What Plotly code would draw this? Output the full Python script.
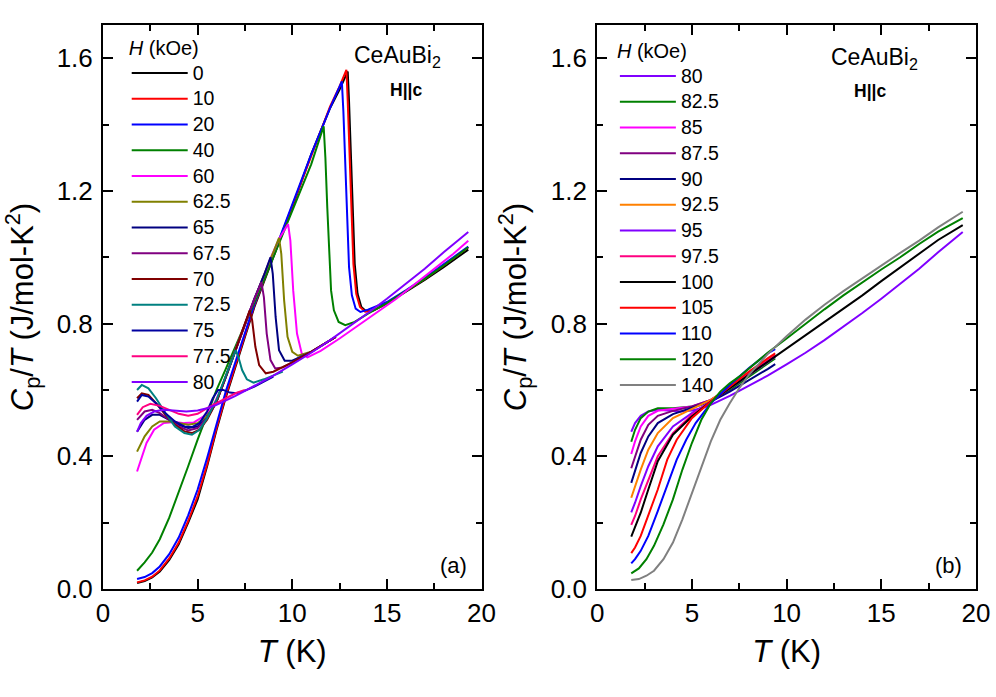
import plotly.graph_objects as go

FONT = "Liberation Sans, Arial, sans-serif"

# ---------------- Panel (a) data : T (K), Cp/T (J/mol-K^2) ----------------
T_a0 = [1.8, 2.2, 2.6, 3.0, 3.5, 4.0, 4.5, 5.0, 5.5, 6.0, 6.5, 7.0, 7.5, 8.0, 9.0, 10.0, 11.0, 12.0, 12.5, 12.93, 13.0, 13.1, 13.2, 13.3, 13.45, 13.65, 13.9, 14.3, 15.0, 16.0, 17.0, 18.0, 19.3]
C_a0 = [0.018, 0.024, 0.035, 0.053, 0.088, 0.135, 0.2, 0.27, 0.37, 0.48, 0.58, 0.67, 0.76, 0.85, 1.0, 1.15, 1.31, 1.45, 1.505, 1.56, 1.47, 1.3, 1.12, 0.98, 0.89, 0.85, 0.837, 0.84, 0.86, 0.895, 0.932, 0.97, 1.023]

T_a10 = [1.8, 2.2, 2.6, 3.0, 3.5, 4.0, 4.5, 5.0, 5.5, 6.0, 6.5, 7.0, 7.5, 8.0, 9.0, 10.0, 11.0, 12.0, 12.5, 12.86, 12.93, 13.03, 13.13, 13.23, 13.38, 13.58, 13.85, 14.3, 15.0, 16.0, 17.0, 18.0, 19.3]
C_a10 = [0.02, 0.026, 0.037, 0.056, 0.092, 0.14, 0.205, 0.28, 0.375, 0.485, 0.585, 0.675, 0.765, 0.855, 1.005, 1.155, 1.31, 1.455, 1.515, 1.565, 1.47, 1.3, 1.12, 0.98, 0.89, 0.85, 0.836, 0.84, 0.862, 0.898, 0.935, 0.975, 1.03]

T_a20 = [1.8, 2.2, 2.6, 3.0, 3.5, 4.0, 4.5, 5.0, 5.5, 6.0, 6.5, 7.0, 7.5, 8.0, 9.0, 10.0, 11.0, 12.0, 12.4, 12.62, 12.7, 12.8, 12.9, 13.0, 13.15, 13.35, 13.6, 14.0, 15.0, 16.0, 17.0, 18.0, 19.3]
C_a20 = [0.03, 0.036, 0.048, 0.068, 0.105, 0.155, 0.222, 0.3, 0.395, 0.5, 0.598, 0.685, 0.772, 0.858, 1.008, 1.158, 1.31, 1.45, 1.5, 1.53, 1.44, 1.27, 1.1, 0.97, 0.885, 0.845, 0.835, 0.842, 0.865, 0.9, 0.938, 0.978, 1.032]

T_a40 = [1.8, 2.2, 2.6, 3.0, 3.5, 4.0, 4.5, 5.0, 5.5, 6.0, 6.5, 7.0, 7.5, 8.0, 8.5, 9.0, 9.5, 10.0, 11.0, 11.66, 11.75, 11.85, 11.95, 12.05, 12.2, 12.45, 12.8, 13.3, 14.0, 15.0, 16.0, 17.0, 18.0, 19.3]
C_a40 = [0.055, 0.08, 0.11, 0.15, 0.215, 0.29, 0.37, 0.45, 0.525, 0.6, 0.665, 0.73, 0.795, 0.86, 0.93, 1.0, 1.07, 1.14, 1.28, 1.395, 1.3, 1.15, 1.0, 0.9, 0.84, 0.805, 0.795, 0.805, 0.83, 0.862, 0.898, 0.935, 0.975, 1.03]

T_a60 = [1.8, 2.0, 2.3, 2.7, 3.2, 3.8, 4.3, 4.8, 5.3, 5.8, 6.3, 6.8, 7.3, 7.8, 8.3, 8.8, 9.3, 9.78, 9.9, 10.05, 10.25, 10.5, 10.8, 11.5, 12.5, 13.5, 14.5, 15.5, 16.5, 17.5, 18.5, 19.3]
C_a60 = [0.354, 0.39, 0.44, 0.48, 0.5, 0.503, 0.5, 0.502, 0.52, 0.55, 0.61, 0.69, 0.77, 0.845, 0.915, 0.99, 1.055, 1.1, 1.05, 0.9, 0.77, 0.71, 0.698, 0.718, 0.755, 0.795, 0.835, 0.875, 0.92, 0.965, 1.01, 1.05]

T_a62 = [1.8, 2.2, 2.6, 3.0, 3.5, 4.0, 4.5, 5.0, 5.5, 6.0, 6.5, 7.0, 7.5, 8.0, 8.5, 9.0, 9.3, 9.42, 9.57, 9.75, 10.0, 10.3, 11.0, 12.3]
C_a62 = [0.414, 0.46, 0.49, 0.505, 0.505, 0.5, 0.495, 0.5, 0.52, 0.565, 0.64, 0.72, 0.8, 0.875, 0.945, 1.015, 1.058, 1.01, 0.87, 0.76, 0.715, 0.703, 0.715, 0.76]

T_a65 = [1.8, 2.2, 2.6, 3.0, 3.5, 4.0, 4.5, 5.0, 5.5, 6.0, 6.5, 7.0, 7.5, 8.0, 8.5, 8.85, 8.97, 9.12, 9.3, 9.6, 10.0, 11.0, 12.3]
C_a65 = [0.474, 0.51, 0.525, 0.525, 0.51, 0.495, 0.485, 0.49, 0.515, 0.565, 0.64, 0.72, 0.8, 0.875, 0.945, 1.0, 0.95, 0.82, 0.72, 0.688, 0.688, 0.715, 0.76]

T_a67 = [1.8, 2.2, 2.6, 3.0, 3.5, 4.0, 4.5, 5.0, 5.5, 6.0, 6.5, 7.0, 7.5, 8.0, 8.37, 8.5, 8.65, 8.85, 9.1, 9.5, 10.0, 11.0, 12.3]
C_a67 = [0.51, 0.535, 0.54, 0.53, 0.51, 0.49, 0.478, 0.485, 0.515, 0.565, 0.64, 0.72, 0.8, 0.875, 0.925, 0.88, 0.77, 0.69, 0.665, 0.668, 0.683, 0.715, 0.76]

T_a70 = [1.8, 2.05, 2.4, 2.8, 3.3, 3.8, 4.3, 4.7, 5.1, 5.5, 6.0, 6.5, 7.0, 7.5, 7.75, 7.88, 8.05, 8.25, 8.6, 9.0, 10.0, 11.0, 12.3]
C_a70 = [0.575, 0.59, 0.585, 0.56, 0.525, 0.495, 0.475, 0.47, 0.48, 0.51, 0.565, 0.64, 0.72, 0.8, 0.84, 0.81, 0.73, 0.675, 0.65, 0.655, 0.683, 0.715, 0.76]

T_a72 = [1.8, 2.05, 2.4, 2.8, 3.3, 3.8, 4.3, 4.7, 5.1, 5.5, 6.0, 6.5, 7.01, 7.15, 7.35, 7.6, 7.95, 8.5, 9.0, 9.5]
C_a72 = [0.6, 0.615, 0.605, 0.575, 0.53, 0.49, 0.47, 0.465, 0.48, 0.515, 0.57, 0.645, 0.72, 0.7, 0.66, 0.632, 0.622, 0.632, 0.643, 0.655]

T_a75 = [1.8, 2.05, 2.4, 2.8, 3.3, 3.8, 4.3, 4.7, 5.1, 5.5, 5.8, 6.08, 6.35, 6.7, 7.05, 7.5, 8.0, 8.5, 9.0]
C_a75 = [0.565, 0.585, 0.58, 0.56, 0.53, 0.505, 0.49, 0.488, 0.5, 0.535, 0.575, 0.6, 0.6, 0.592, 0.59, 0.598, 0.61, 0.625, 0.64]

T_a77 = [1.8, 2.1, 2.5, 3.0, 3.5, 4.0, 4.5, 5.0, 5.5, 6.0, 6.5, 7.0, 7.5]
C_a77 = [0.525, 0.548, 0.558, 0.552, 0.54, 0.528, 0.522, 0.528, 0.545, 0.56, 0.575, 0.59, 0.6]

# 80 kOe (shown in both panels)
T_80 = [1.8, 2.0, 2.3, 2.7, 3.2, 3.8, 4.4, 5.0, 5.5, 6.0, 6.5, 7.0, 7.5, 8.0, 9.0, 10.0, 11.0, 12.0, 13.0, 14.0, 15.0, 16.0, 17.0, 18.0, 19.3]
C_80 = [0.474, 0.5, 0.522, 0.535, 0.54, 0.538, 0.535, 0.538, 0.545, 0.555, 0.568, 0.582, 0.597, 0.612, 0.643, 0.677, 0.712, 0.75, 0.79, 0.832, 0.875, 0.92, 0.965, 1.015, 1.076]

# ---------------- Panel (b) data ----------------
T_b_short = [1.8, 2.0, 2.3, 2.7, 3.2, 4.0, 5.0, 6.0, 7.0, 8.0, 9.0, 9.4]
C_b82 = [0.444, 0.48, 0.515, 0.535, 0.545, 0.545, 0.55, 0.565, 0.6, 0.64, 0.68, 0.695]
C_b85 = [0.407, 0.445, 0.49, 0.522, 0.537, 0.542, 0.55, 0.57, 0.605, 0.645, 0.685, 0.7]
C_b87 = [0.364, 0.4, 0.45, 0.495, 0.522, 0.537, 0.55, 0.57, 0.607, 0.648, 0.688, 0.703]
C_b90 = [0.32, 0.355, 0.41, 0.46, 0.5, 0.527, 0.545, 0.565, 0.595, 0.628, 0.663, 0.678]
C_b92 = [0.275, 0.31, 0.36, 0.42, 0.47, 0.515, 0.542, 0.57, 0.607, 0.648, 0.69, 0.705]
C_b95 = [0.231, 0.26, 0.31, 0.37, 0.43, 0.49, 0.53, 0.565, 0.605, 0.645, 0.685, 0.7]
C_b97 = [0.193, 0.22, 0.27, 0.33, 0.4, 0.47, 0.525, 0.565, 0.605, 0.65, 0.69, 0.705]

T_b100 = [1.8, 2.0, 2.3, 2.7, 3.2, 4.0, 5.0, 6.0, 7.0, 8.0, 9.0, 10.0, 11.0, 12.0, 13.0, 14.0, 15.0, 16.0, 17.0, 18.0, 19.3]
C_b100 = [0.158, 0.185, 0.23, 0.3, 0.385, 0.465, 0.52, 0.565, 0.605, 0.645, 0.685, 0.725, 0.765, 0.805, 0.845, 0.885, 0.928, 0.97, 1.012, 1.052, 1.097]

T_b105 = [1.8, 2.0, 2.3, 2.7, 3.2, 3.7, 4.2, 5.0, 6.0, 7.0, 8.0, 9.0, 9.4]
C_b105 = [0.108, 0.125, 0.16, 0.22, 0.3, 0.39, 0.45, 0.515, 0.565, 0.61, 0.655, 0.695, 0.71]

T_b110 = [1.8, 2.0, 2.3, 2.7, 3.2, 3.7, 4.2, 4.7, 5.2, 6.0, 7.0, 8.0, 9.0, 9.4]
C_b110 = [0.077, 0.09, 0.115, 0.16, 0.235, 0.315, 0.39, 0.45, 0.5, 0.56, 0.615, 0.665, 0.71, 0.723]

T_b_long = [1.8, 2.2, 2.6, 3.0, 3.5, 4.0, 4.5, 5.0, 5.5, 6.0, 6.5, 7.0, 7.5, 8.0, 9.0, 10.0, 11.0, 12.0, 13.0, 14.0, 15.0, 16.0, 17.0, 18.0, 19.3]
C_b120 = [0.047, 0.062, 0.09, 0.13, 0.195, 0.27, 0.36, 0.44, 0.51, 0.56, 0.595, 0.62, 0.64, 0.665, 0.712, 0.755, 0.8, 0.843, 0.885, 0.925, 0.963, 1.0, 1.04, 1.077, 1.118]
C_b140 = [0.027, 0.03, 0.04, 0.055, 0.09, 0.14, 0.21, 0.29, 0.37, 0.445, 0.51, 0.56, 0.605, 0.645, 0.708, 0.762, 0.812, 0.857, 0.898, 0.937, 0.976, 1.013, 1.05, 1.09, 1.137]

labels_a = ["0", "10", "20", "40", "60", "62.5", "65", "67.5", "70", "72.5", "75", "77.5", "80"]
labels_b = ["80", "82.5", "85", "87.5", "90", "92.5", "95", "97.5", "100", "105", "110", "120", "140"]

colors_a = ["#000000", "#FF0000", "#0000FF", "#008000", "#FF00FF", "#808000", "#000080",
            "#800080", "#800000", "#008080", "#0000A0", "#FF0080", "#8000FF"]
colors_b = ["#8000FF", "#008000", "#FF00FF", "#800080", "#000080", "#FF8000", "#8000FF",
            "#FF0080", "#000000", "#FF0000", "#0000FF", "#008000", "#808080"]

series_a = [(T_a0, C_a0), (T_a10, C_a10), (T_a20, C_a20), (T_a40, C_a40), (T_a60, C_a60),
            (T_a62, C_a62), (T_a65, C_a65), (T_a67, C_a67), (T_a70, C_a70), (T_a72, C_a72),
            (T_a75, C_a75), (T_a77, C_a77), (T_80, C_80)]
series_b = [(T_80, C_80), (T_b_short, C_b82), (T_b_short, C_b85), (T_b_short, C_b87),
            (T_b_short, C_b90), (T_b_short, C_b92), (T_b_short, C_b95), (T_b_short, C_b97),
            (T_b100, C_b100), (T_b105, C_b105), (T_b110, C_b110), (T_b_long, C_b120),
            (T_b_long, C_b140)]

LEG_TXT = '<span style="font-size:19.5px">{}</span>'

fig = go.Figure()
for lab, (t, c), col in zip(labels_a, series_a, colors_a):
    fig.add_trace(go.Scatter(x=t, y=c, mode="lines", name=LEG_TXT.format(lab),
                             line=dict(color=col, width=2),
                             xaxis="x", yaxis="y", legend="legend"))
for lab, (t, c), col in zip(labels_b, series_b, colors_b):
    fig.add_trace(go.Scatter(x=t, y=c, mode="lines", name=LEG_TXT.format(lab),
                             line=dict(color=col, width=2),
                             xaxis="x2", yaxis="y2", legend="legend2"))

tickfont = dict(size=26, color="black", family=FONT)
titlefont = dict(size=31, color="black", family=FONT)

# Figure fills the whole 996x697 window (body margin removed in post_script)
FW, FH = 996, 697
# plot area on screen: x 103.3..976 px, y 25..589 px
SL, SR, ST, SB = 103.3, 976.0, 25.0, 589.0
ML, MT = SL, ST
MR, MB = FW - SR, FH - SB
PW, PH = SR - SL, SB - ST

def px_x(p):
    return (p - SL) / PW

def px_y(p):
    return (SB - p) / PH

def xaxis(domain, anchor):
    return dict(domain=domain, anchor=anchor, range=[0, 20], tick0=0, dtick=5,
                automargin=False, ticklabeloverflow="allow",
                showline=True, linewidth=2, linecolor="black", mirror="allticks",
                ticks="inside", ticklen=10, tickwidth=2, tickcolor="black",
                showgrid=False, zeroline=False, tickfont=tickfont, ticklabelstandoff=0,
                minor=dict(dtick=2.5, ticks="inside", ticklen=6, tickwidth=2,
                           tickcolor="black", showgrid=False),
                title=dict(text="<i>T</i> (K)", font=titlefont, standoff=13))

def yaxis(anchor):
    return dict(domain=[0, 1], anchor=anchor, range=[0, 1.7], tick0=0, dtick=0.4,
                tickformat=".1f", automargin=False, ticklabeloverflow="allow",
                showline=True, linewidth=2, linecolor="black", mirror="allticks",
                ticks="inside", ticklen=10, tickwidth=2, tickcolor="black",
                showgrid=False, zeroline=False, tickfont=tickfont, ticklabelstandoff=3,
                minor=dict(dtick=0.2, ticks="inside", ticklen=6, tickwidth=2,
                           tickcolor="black", showgrid=False),
                title=dict(text="<i>C</i><sub>p</sub>/<i>T</i> (J/mol-K<sup>2</sup>)",
                           font=titlefont, standoff=15))

def legend(x, y):
    return dict(x=x, y=y, xanchor="left", yanchor="top", bgcolor="rgba(0,0,0,0)",
                borderwidth=0, font=dict(size=17.5, family=FONT, color="black"),
                title=dict(text="<i>H</i> (kOe)", font=dict(size=20, family=FONT, color="black")),
                itemwidth=56, tracegroupgap=0, traceorder="normal")

ann_font = dict(family=FONT, color="black")
annotations = [
    dict(xref="x domain", yref="y domain", x=0.658, y=0.945, xanchor="left", yanchor="middle",
         text="CeAuBi<sub>2</sub>", showarrow=False, font=dict(size=23, **ann_font)),
    dict(xref="x domain", yref="y domain", x=0.752, y=0.884, xanchor="left", yanchor="middle",
         text="<b>H||c</b>", showarrow=False, font=dict(size=17.5, **ann_font)),
    dict(xref="x domain", yref="y domain", x=0.966, y=0.041, xanchor="right", yanchor="middle",
         text="(a)", showarrow=False, font=dict(size=22, **ann_font)),
    dict(xref="x2 domain", yref="y2 domain", x=0.612, y=0.941, xanchor="left", yanchor="middle",
         text="CeAuBi<sub>2</sub>", showarrow=False, font=dict(size=23, **ann_font)),
    dict(xref="x2 domain", yref="y2 domain", x=0.672, y=0.883, xanchor="left", yanchor="middle",
         text="<b>H||c</b>", showarrow=False, font=dict(size=17.5, **ann_font)),
    dict(xref="x2 domain", yref="y2 domain", x=0.968, y=0.041, xanchor="right", yanchor="middle",
         text="(b)", showarrow=False, font=dict(size=22, **ann_font)),
]

fig.update_layout(
    width=FW, height=FH, margin=dict(l=ML, r=MR, t=MT, b=MB, autoexpand=False),
    paper_bgcolor="white", plot_bgcolor="white",
    font=dict(family=FONT, color="black"),
    xaxis=xaxis([0, px_x(481.7)], "y"),
    yaxis=yaxis("x"),
    xaxis2=xaxis([px_x(597.3), 1], "y2"),
    yaxis2=yaxis("x2"),
    legend=legend(px_x(127.0), px_y(29.0)),
    legend2=legend(px_x(615.0), px_y(32.0)),
    annotations=annotations,
    showlegend=True,
)

fig.write_html("out.html",
               config={"displayModeBar": False},
               post_script="document.body.style.margin='0px'; document.body.style.overflow='hidden';")
